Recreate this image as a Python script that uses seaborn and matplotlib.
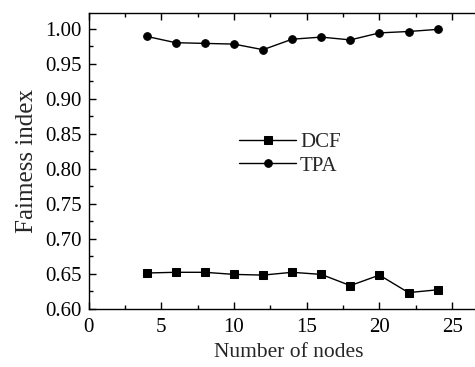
import matplotlib
matplotlib.use("Agg")
import matplotlib.pyplot as plt
import seaborn as sns
import pandas as pd
from matplotlib.ticker import MultipleLocator

nodes = [4, 6, 8, 10, 12, 14, 16, 18, 20, 22, 24]
dcf = [0.651, 0.652, 0.652, 0.649, 0.648, 0.652, 0.649, 0.633, 0.648, 0.623, 0.627]
tpa = [0.989, 0.980, 0.979, 0.978, 0.970, 0.985, 0.988, 0.984, 0.994, 0.996, 0.999]
series_names = ["DCF", "TPA"]

sns.set_style("ticks")
plt.rcParams['font.family'] = ['Liberation Serif', 'DejaVu Serif']

fig = plt.figure(figsize=(4.75, 3.67), dpi=100)
ax = fig.add_axes([88.5/475, 58.3/367, 400/475, 295.4/367])

df = pd.DataFrame({"x": nodes * 2, "y": dcf + tpa,
                   "s": [series_names[0]] * len(nodes) + [series_names[1]] * len(nodes)})
sns.lineplot(data=df, x="x", y="y", hue="s", style="s",
             palette=["black", "black"], markers={"DCF": "s", "TPA": "o"},
             dashes=False, markersize=5.5, linewidth=1.0, markeredgecolor="black",
             ax=ax, legend=True)

ax.set_xlim(0, 27.5)
ax.set_ylim(0.60, 1.022)
ax.xaxis.set_major_locator(MultipleLocator(5))
ax.xaxis.set_minor_locator(MultipleLocator(2.5))
ax.yaxis.set_major_locator(MultipleLocator(0.05))
ax.yaxis.set_minor_locator(MultipleLocator(0.025))
ax.yaxis.set_major_formatter(matplotlib.ticker.FormatStrFormatter('%.2f'))
ax.tick_params(which='both', direction='in', top=True, right=False, labelsize=15,
               width=1.0, color='black', labelcolor='black')
ax.tick_params(which='major', length=5)
ax.tick_params(which='minor', length=3)
ax.tick_params(axis='x', which='major', pad=7)
ax.tick_params(axis='y', which='major', pad=5)
for sp in ax.spines.values():
    sp.set_linewidth(1.0)
    sp.set_color('black')
ax.set_xlabel("Number of nodes", fontsize=15.5, labelpad=4)
ax.set_ylabel("Faimess index", fontsize=18, labelpad=5)

leg = ax.legend(title=None, frameon=False, fontsize=15, loc='center',
                bbox_to_anchor=((290 - 88.5) / 400, 1 - (154 - 13.3) / 295.4),
                handlelength=2.7, handletextpad=0.2, labelspacing=0.2)

fig.savefig("out.png", dpi=100)
